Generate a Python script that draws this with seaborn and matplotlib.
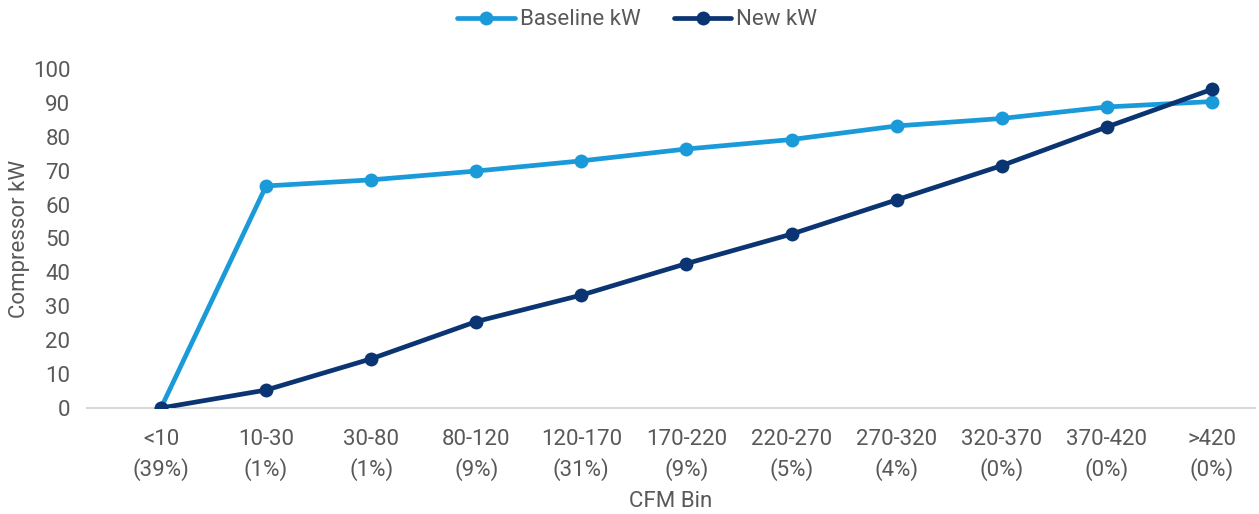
import pandas as pd
import matplotlib.pyplot as plt
import seaborn as sns

sns.set_style("white")
plt.rcParams['font.family'] = ['Roboto', 'DejaVu Sans']

bins = ["<10", "10-30", "30-80", "80-120", "120-170", "170-220",
        "220-270", "270-320", "320-370", "370-420", ">420"]
shares = ["39%", "1%", "1%", "9%", "31%", "9%", "5%", "4%", "0%", "0%", "0%"]
baseline_kw = [0, 65.5, 67.3, 69.9, 72.9, 76.4, 79.2, 83.2, 85.4, 88.8, 90.4]
new_kw = [0, 5.3, 14.5, 25.5, 33.3, 42.6, 51.3, 61.4, 71.5, 82.9, 94.0]

labels = [b + "\n(" + s + ")" for b, s in zip(bins, shares)]
df = pd.DataFrame({
    "bin": labels * 2,
    "kW": baseline_kw + new_kw,
    "series": ["Baseline kW"] * len(labels) + ["New kW"] * len(labels),
})

grey = "#595959"
fig = plt.figure(figsize=(12.59, 5.14), dpi=100)
ax = fig.add_axes([87 / 1259, 106 / 514, 1168 / 1259, 339 / 514])

sns.lineplot(data=df, x="bin", y="kW", hue="series", sort=False,
             palette=["#1A9AD9", "#0B3572"], marker="o", markersize=10,
             markeredgewidth=0, linewidth=3.4, ax=ax)

ax.set_ylim(0, 100)
ax.set_yticks(range(0, 101, 10))
ax.set_xlim(-0.704, 10.41)
for s in ["top", "right", "left"]:
    ax.spines[s].set_visible(False)
ax.spines["bottom"].set_color("#D9D9D9")
ax.spines["bottom"].set_linewidth(1.5)
ax.spines["bottom"].set_zorder(0)
ax.tick_params(axis="both", length=0, colors=grey, labelsize=16)
ax.tick_params(axis="y", pad=12)
ax.tick_params(axis="x", pad=15)
for t in ax.get_xticklabels():
    t.set_linespacing(1.45)
ax.set_xlabel("CFM Bin", color=grey, fontsize=16)
ax.set_ylabel("Compressor kW", color=grey, fontsize=16)
ax.xaxis.set_label_coords(0.5, -83 / 339, transform=ax.transAxes)
ax.yaxis.set_label_coords(-57 / 1168, 0.5, transform=ax.transAxes)

ax.legend(loc="upper center", bbox_to_anchor=(0.471, 1.235), ncol=2,
          frameon=False, fontsize=16, labelcolor=grey, handlelength=2.6,
          columnspacing=1.5, handletextpad=0.2)

fig.savefig("out.png", dpi=100)
